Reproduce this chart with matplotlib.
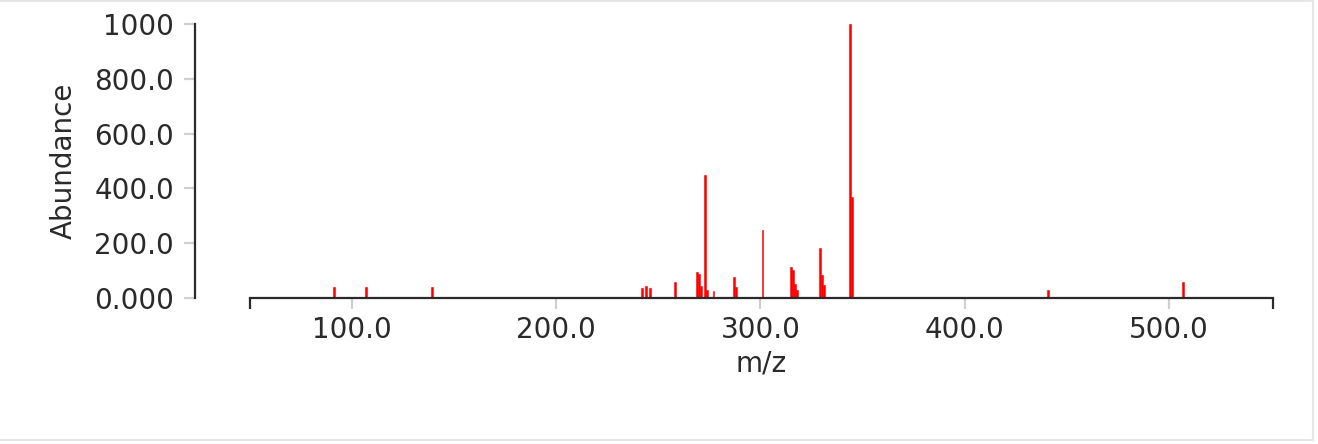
import matplotlib
matplotlib.use("Agg")
import matplotlib.pyplot as plt
from matplotlib.lines import Line2D

mz = [91, 107, 139, 242, 244, 246, 258, 269, 270, 271, 273, 274, 277,
      287, 288, 301, 315, 316, 317, 318, 329, 330, 331, 344, 345, 441, 507]
abundance = [39, 39, 39, 37, 44, 36, 60, 96, 88, 44, 448, 31, 27,
             77, 41, 249, 114, 103, 50, 31, 181, 85, 46, 1000, 370, 29, 58]
xticks = [100, 200, 300, 400, 500]
xlabels = ["100.0", "200.0", "300.0", "400.0", "500.0"]
yticks = [0, 200, 400, 600, 800, 1000]
ylabels = ["0.000", "200.0", "400.0", "600.0", "800.0", "1000"]

W, H = 1318, 444
dark = "#2a2a2a"
grey = "#d0d0d0"
plt.rcParams['font.family'] = ['DejaVu Sans']

fig = plt.figure(figsize=(W / 100, H / 100), dpi=100)
ax = fig.add_axes([250 / W, (H - 298) / H, (1273 - 250) / W, (298 - 24) / H])

ax.bar(mz, abundance, width=0.9, color="#ff0000", edgecolor="#ff0000",
       linewidth=0.4)
ax.set_xlim(50, 551)
ax.set_ylim(0, 1000)

for s in ["top", "right"]:
    ax.spines[s].set_visible(False)
ax.spines["left"].set_position(("outward", 55 * 0.72))
for s in ["left", "bottom"]:
    ax.spines[s].set_color(dark)
    ax.spines[s].set_linewidth(1.6)

ax.set_xticks(xticks)
ax.set_xticklabels(xlabels)
ax.set_yticks(yticks)
ax.set_yticklabels(ylabels)
ax.tick_params(axis="both", length=8, width=1.6, color=grey, labelsize=20,
               labelcolor=dark)
ax.tick_params(axis="y", pad=7)
ax.tick_params(axis="x", pad=5)
for i in (0, len(yticks) - 1):
    ax.yaxis.get_major_ticks()[i].tick1line.set_color(dark)

# dark end caps on x axis
ax.set_xticks([50, 551], minor=True)
ax.tick_params(axis="x", which="minor", length=8, width=1.6, color=dark)

ax.set_xlabel("m/z", fontsize=20, color=dark, labelpad=4)
ax.set_ylabel("Abundance", fontsize=20, color=dark, labelpad=12)

# container border
fig.add_artist(Line2D([0, 1313 / W], [1 - 1 / H, 1 - 1 / H], color="#e6e6e6", lw=1.5))
fig.add_artist(Line2D([1313 / W, 1313 / W], [4 / H, 1], color="#e6e6e6", lw=1.5))
fig.add_artist(Line2D([0, 1313 / W], [4 / H, 4 / H], color="#e6e6e6", lw=1.5))

fig.savefig("out.png", dpi=100)
